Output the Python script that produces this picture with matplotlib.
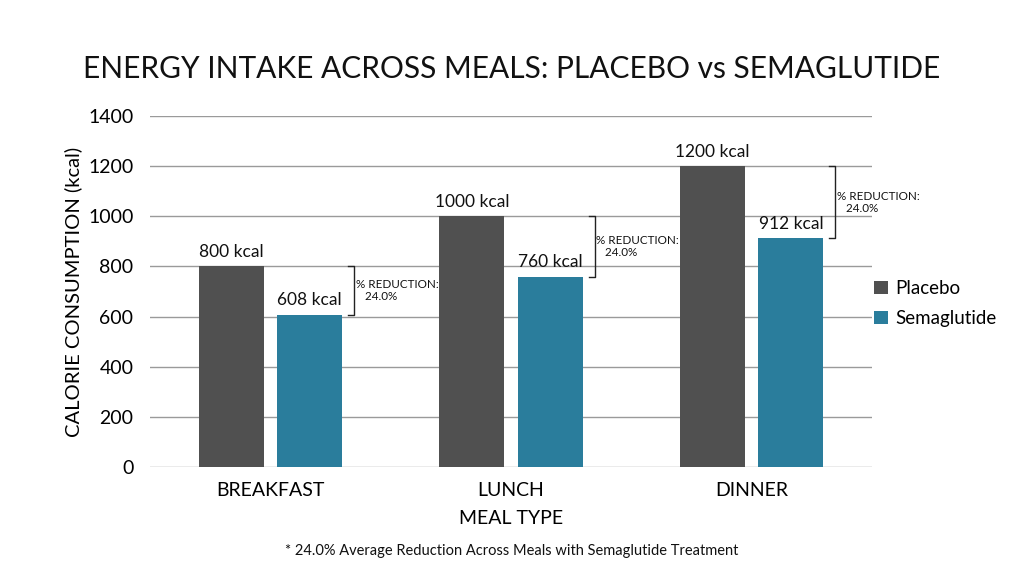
import numpy as np
import matplotlib
matplotlib.use('Agg')
import matplotlib.pyplot as plt

plt.rcParams['font.family'] = ['Lato', 'DejaVu Sans']

# ── data ──
meals = ['BREAKFAST', 'LUNCH', 'DINNER']
placebo = [800, 1000, 1200]
semaglutide = [608, 760, 912]
reduction_pct = [24.0, 24.0, 24.0]
avg_reduction = 24.0

c_placebo = '#505050'
c_sema = '#2a7d9c'

fig = plt.figure(figsize=(10.24, 5.72), dpi=100)
ax = fig.add_axes([0.1465, 0.1836, 0.7051, 0.6134])

x = np.arange(len(meals))
off = 0.163
w = 0.27

ax.bar(x - off, placebo, w, color=c_placebo, label='Placebo', zorder=3)
ax.bar(x + off, semaglutide, w, color=c_sema, label='Semaglutide', zorder=3)

for xi, p, s, r in zip(x, placebo, semaglutide, reduction_pct):
    ax.text(xi - off, p + 25, f'{p} kcal', ha='center', va='bottom',
            fontsize=12.5, color='#111111')
    ax.text(xi + off, s + 25, f'{s} kcal', ha='center', va='bottom',
            fontsize=12.5, color='#111111')
    # bracket
    bx = xi + off + w / 2 + 0.05
    tick = 0.025
    ax.plot([bx - tick, bx, bx, bx - tick], [p, p, s, s],
            color='#222222', linewidth=1.0, zorder=4, clip_on=False)
    ax.text(bx + 0.006, (p + s) / 2, f'% REDUCTION:\n   {r:.1f}%',
            ha='left', va='center', fontsize=8.4, color='#111111',
            linespacing=1.1, zorder=5)

ax.set_xlim(-0.5, 2.5)
ax.set_ylim(0, 1400)
ax.set_yticks(np.arange(0, 1401, 200))
ax.set_xticks(x)
ax.set_xticklabels(meals, fontsize=14)
ax.tick_params(axis='y', labelsize=14, length=0, pad=12)
ax.tick_params(axis='x', length=0, pad=11)
ax.grid(axis='y', color='#9a9a9a', linewidth=1.0, zorder=0)
for sp in ax.spines.values():
    sp.set_visible(False)

ax.set_xlabel('MEAL TYPE', fontsize=14, labelpad=8)
ax.set_ylabel('CALORIE CONSUMPTION (kcal)', fontsize=14.5, labelpad=4)

fig.text(0.5, 0.88, 'ENERGY INTAKE ACROSS MEALS: PLACEBO vs SEMAGLUTIDE',
         ha='center', va='center', fontsize=21.5, color='#111111')
fig.text(0.5, 0.037,
         f'* {avg_reduction:.1f}% Average Reduction Across Meals with Semaglutide Treatment',
         ha='center', va='center', fontsize=10.5, color='#111111')

ax.legend(loc='center left', bbox_to_anchor=(0.98, 0.465), frameon=False,
          fontsize=13.5, handlelength=0.7, handleheight=0.7, handletextpad=0.4,
          labelspacing=0.7)

fig.savefig('out.png', dpi=100)
